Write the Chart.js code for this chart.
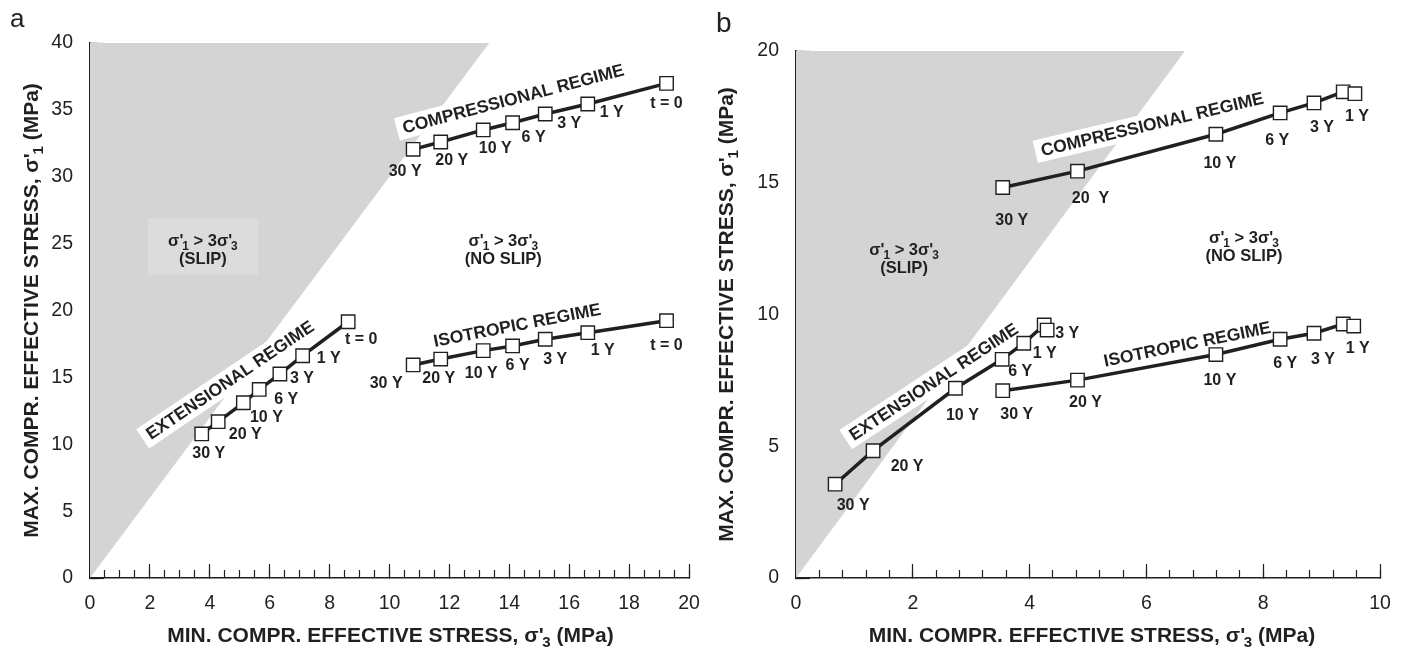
<!DOCTYPE html>
<html>
<head>
<meta charset="utf-8">
<script src="https://cdn.jsdelivr.net/npm/chart.js@4.4.1/dist/chart.umd.min.js"></script>
<style>
  html, body { margin: 0; padding: 0; background: #fff; }
  body { width: 1406px; height: 653px; position: relative; overflow: hidden; font-family: 'Liberation Sans', Arial, sans-serif; }
  .panel { position: absolute; top: 0; width: 703px; height: 653px; }
  .tag { position: absolute; color: #231f20; line-height: 1; }
</style>
</head>
<body>
<div class="panel" style="left:0"><canvas id="chartA" width="703" height="653"></canvas></div>
<div class="panel" style="left:703px"><canvas id="chartB" width="703" height="653"></canvas></div>
<div class="tag" style="left:10px; top:5px; font-size:26px">a</div>
<div class="tag" style="left:716px; top:9px; font-size:28px">b</div>
<script>
const INK = '#231f20';
const GRAY = '#d4d4d4';
const FONT = "'Liberation Sans', Arial, Helvetica, sans-serif";

// ---- panel a (sigma'3, sigma'1 in MPa) ----
const stepLabelsA = ['30 Y', '20 Y', '10 Y', '6 Y', '3 Y', '1 Y', 't = 0'];
const compS3a = [10.79, 11.71, 13.13, 14.11, 15.20, 16.62, 19.25];
const compS1a = [32.05, 32.60, 33.50, 34.04, 34.69, 35.44, 36.98];
const isoS3a = [10.79, 11.71, 13.13, 14.11, 15.20, 16.62, 19.25];
const isoS1a = [15.93, 16.37, 17.00, 17.35, 17.85, 18.34, 19.24];
const extS3a = [3.73, 4.28, 5.12, 5.65, 6.34, 7.10, 8.62];
const extS1a = [10.77, 11.69, 13.10, 14.10, 15.25, 16.62, 19.16];
const slipS3a = [0, 13.33];
const slipS1a = [0, 40];

// ---- panel b ----
const compLabelsB = ['30 Y', '20  Y', '10 Y', '6 Y', '3 Y', '', '1 Y'];
const isoLabelsB = ['30 Y', '20 Y', '10 Y', '6 Y', '3 Y', '', '1 Y'];
const extLabelsB = ['30 Y', '20 Y', '10 Y', '6 Y', '1 Y', '3 Y', ''];
const compS3b = [3.54, 4.82, 7.19, 8.29, 8.87, 9.37, 9.57];
const compS1b = [14.82, 15.44, 16.84, 17.65, 18.03, 18.45, 18.38];
const isoS3b = [3.54, 4.82, 7.19, 8.29, 8.87, 9.37, 9.55];
const isoS1b = [7.11, 7.51, 8.48, 9.06, 9.29, 9.64, 9.56];
const extS3b = [0.67, 1.32, 2.73, 3.53, 3.90, 4.25, 4.30];
const extS1b = [3.56, 4.83, 7.20, 8.30, 8.91, 9.60, 9.41];
const slipS3b = [0, 6.66];
const slipS1b = [0, 20];

// axis / note text
const xTitle = ['MIN. COMPR. EFFECTIVE STRESS, σ\'', '_3', ' (MPa)'];
const yTitle = ['MAX. COMPR. EFFECTIVE STRESS, σ\'', '_1', ' (MPa)'];
const ratioText = ['σ\'', '_1', ' > 3σ\'', '_3'];

// label offsets from their point, in px
const offCompA = [[-8, 22], [11, 19], [12, 19], [21, 15], [24, 10], [24, 9], [0, 20]];
const offIsoA = [[-27, 19], [-2, 20], [-2, 23], [5, 20], [10, 20], [15, 18], [0, 25]];
const offExtA = [[7, 20], [27, 13], [23, 15], [27, 10], [22, 5], [26, 3], [13, 18]];
const offCompB = [[9, 33], [13, 27], [4, 29], [-3, 28], [8, 25], [0, 0], [2, 23]];
const offIsoB = [[14, 24], [8, 22], [4, 26], [5, 24], [9, 26], [0, 0], [4, 22]];
const offExtB = [[18, 21], [34, 16], [7, 27], [18, 12], [21, 10], [23, 9], [0, 0]];

function pts(xs, ys) { return xs.map((x, i) => ({ x: x, y: ys[i] })); }

function richWidth(ctx, parts, size, weight) {
  let w = 0;
  parts.forEach(p => {
    const sub = p.startsWith('_');
    ctx.font = weight + ' ' + (sub ? size * 0.72 : size) + 'px ' + FONT;
    w += ctx.measureText(sub ? p.slice(1) : p).width - (sub ? size * 0.06 : 0);
  });
  return w;
}

function drawRich(ctx, parts, cx, cy, size, weight) {
  let x = cx - richWidth(ctx, parts, size, weight) / 2;
  ctx.textAlign = 'left';
  ctx.textBaseline = 'middle';
  parts.forEach(p => {
    const sub = p.startsWith('_');
    const t = sub ? p.slice(1) : p;
    ctx.font = weight + ' ' + (sub ? size * 0.72 : size) + 'px ' + FONT;
    if (sub) x -= size * 0.06;
    ctx.fillText(t, x, cy + (sub ? size * 0.32 : 0));
    x += ctx.measureText(t).width;
  });
}

function lineSet(xs, ys, labels, offsets) {
  return {
    data: pts(xs, ys),
    borderColor: INK,
    borderWidth: 3.5,
    tension: 0,
    fill: false,
    pointStyle: 'rect',
    pointRadius: 9.5,
    pointHoverRadius: 9.5,
    pointBackgroundColor: '#fff',
    pointBorderColor: INK,
    pointBorderWidth: 1.4,
    order: 1,
    stepLabels: labels,
    stepOffsets: offsets
  };
}

function makeChart(id, o) {
  const decor = {
    id: 'decor' + id,
    afterDatasetDraw(chart, args) {
      if (args.index !== 0) return;
      const ctx = chart.ctx, xs = chart.scales.x, ys = chart.scales.y;
      ctx.save();
      o.shades.forEach(b => {
        const x0 = xs.getPixelForValue(b.x0), x1 = xs.getPixelForValue(b.x1);
        const y0 = ys.getPixelForValue(b.y0), y1 = ys.getPixelForValue(b.y1);
        ctx.fillStyle = '#dcdcdc';
        ctx.fillRect(x0, y1, x1 - x0, y0 - y1);
      });
      o.regimes.forEach(r => {
        ctx.save();
        ctx.translate(xs.getPixelForValue(r.x), ys.getPixelForValue(r.y));
        ctx.rotate(r.angle * Math.PI / 180);
        ctx.font = 'bold 17.5px ' + FONT;
        const w = ctx.measureText(r.text).width;
        ctx.fillStyle = '#fff';
        ctx.fillRect(-w / 2 - 6, -11.5, w + 12, 23);
        ctx.fillStyle = INK;
        ctx.textAlign = 'center';
        ctx.textBaseline = 'middle';
        ctx.fillText(r.text, 0, 1);
        ctx.restore();
      });
      ctx.fillStyle = INK;
      o.notes.forEach(n => {
        const cx = xs.getPixelForValue(n.x), cy = ys.getPixelForValue(n.y);
        drawRich(ctx, ratioText, cx, cy - 9, 16.5, 'bold');
        ctx.font = 'bold 16.5px ' + FONT;
        ctx.textAlign = 'center';
        ctx.fillText(n.text, cx, cy + 9);
      });
      ctx.restore();
    },
    afterDatasetsDraw(chart) {
      const ctx = chart.ctx;
      ctx.save();
      ctx.fillStyle = INK;
      ctx.font = 'bold 16px ' + FONT;
      ctx.textAlign = 'center';
      ctx.textBaseline = 'middle';
      chart.data.datasets.forEach((ds, i) => {
        if (!ds.stepLabels) return;
        chart.getDatasetMeta(i).data.forEach((pt, j) => {
          const t = ds.stepLabels[j];
          if (!t) return;
          ctx.fillText(t, pt.x + ds.stepOffsets[j][0], pt.y + ds.stepOffsets[j][1]);
        });
      });
      ctx.restore();
    },
    afterDraw(chart) {
      const ctx = chart.ctx, a = chart.chartArea;
      ctx.save();
      ctx.fillStyle = INK;
      drawRich(ctx, xTitle, (a.left + a.right) / 2 + o.xTitleShift, a.bottom + 58, 21, 'bold');
      ctx.translate(a.left - o.yTitleGap, (a.top + a.bottom) / 2);
      ctx.rotate(-Math.PI / 2);
      drawRich(ctx, yTitle, 0, 0, 21, 'bold');
      ctx.restore();
    }
  };

  const majorTicks = (max, step, padding, weight) => ({
    type: 'linear', min: 0, max: max, weight: weight,
    border: { display: true, color: INK, width: 1.5 },
    grid: { drawOnChartArea: false, drawTicks: true, tickLength: -14, tickWidth: 1.2, tickColor: INK },
    ticks: { stepSize: step, padding: padding, color: INK, autoSkip: false, maxRotation: 0,
             font: { size: 19.5, family: FONT } }
  });
  const minorTicks = (max, step) => ({
    type: 'linear', min: 0, max: max, weight: 0,
    border: { display: false },
    grid: { drawOnChartArea: false, drawTicks: true, tickLength: -8, tickWidth: 1.2, tickColor: INK },
    ticks: { stepSize: step, display: false }
  });
  const noOverhang = s => { s.paddingLeft = 0; s.paddingRight = 0; s.paddingTop = 0; s.paddingBottom = 0; };

  const x = majorTicks(o.xMax, o.xMajor, 28.3, 1);
  x.position = 'bottom';
  x.afterFit = s => { s.height = o.bottomH; noOverhang(s); };
  const xm = minorTicks(o.xMax, o.xMinor);
  xm.position = 'bottom';
  xm.afterFit = s => { s.height = 0; noOverhang(s); };
  const y = majorTicks(o.yMax, o.yMajor, 31, 1);
  y.position = 'left';
  y.afterFit = s => { s.width = o.leftW; noOverhang(s); };
  const ym = minorTicks(o.yMax, o.yMinor);
  ym.position = 'left';
  ym.afterFit = s => { s.width = 0; noOverhang(s); };

  return new Chart(document.getElementById(id), {
    type: 'line',
    data: {
      datasets: [
        {
          data: pts(o.slip[0], o.slip[1]),
          borderWidth: 0,
          borderColor: 'rgba(0,0,0,0)',
          backgroundColor: GRAY,
          pointRadius: 0,
          fill: 'end',
          order: 10
        }
      ].concat(o.series)
    },
    options: {
      responsive: false,
      animation: false,
      layout: { padding: o.padding },
      plugins: { legend: { display: false }, tooltip: { enabled: false } },
      events: [],
      scales: { x: x, xm: xm, y: y, ym: ym }
    },
    plugins: [decor]
  });
}

makeChart('chartA', {
  xMax: 20, xMajor: 2, xMinor: 0.5,
  yMax: 40, yMajor: 5, yMinor: 1,
  leftW: 90, bottomH: 75, yTitleGap: 58, xTitleShift: 1,
  padding: { top: 43, right: 14, left: 0, bottom: 0 },
  slip: [slipS3a, slipS1a],
  series: [
    lineSet(compS3a, compS1a, stepLabelsA, offCompA),
    lineSet(isoS3a, isoS1a, stepLabelsA, offIsoA),
    lineSet(extS3a, extS1a, stepLabelsA, offExtA)
  ],
  shades: [{ x0: 1.94, x1: 5.61, y0: 22.65, y1: 26.9 }],
  regimes: [
    { text: 'COMPRESSIONAL REGIME', x: 14.13, y: 35.84, angle: -14.8 },
    { text: 'ISOTROPIC REGIME', x: 14.26, y: 18.92, angle: -11 },
    { text: 'EXTENSIONAL REGIME', x: 4.67, y: 14.8, angle: -34 }
  ],
  notes: [
    { text: '(SLIP)', x: 3.77, y: 24.52 },
    { text: '(NO SLIP)', x: 13.8, y: 24.46 }
  ]
});

makeChart('chartB', {
  xMax: 10, xMajor: 2, xMinor: 0.4,
  yMax: 20, yMajor: 5, yMinor: 1,
  leftW: 93, bottomH: 75, yTitleGap: 69, xTitleShift: 4,
  padding: { top: 51, right: 26, left: 0, bottom: 0 },
  slip: [slipS3b, slipS1b],
  series: [
    lineSet(compS3b, compS1b, compLabelsB, offCompB),
    lineSet(isoS3b, isoS1b, isoLabelsB, offIsoB),
    lineSet(extS3b, extS1b, extLabelsB, offExtB)
  ],
  shades: [],
  regimes: [
    { text: 'COMPRESSIONAL REGIME', x: 6.10, y: 17.23, angle: -13.4 },
    { text: 'ISOTROPIC REGIME', x: 6.70, y: 8.88, angle: -11.5 },
    { text: 'EXTENSIONAL REGIME', x: 2.355, y: 7.45, angle: -33.4 }
  ],
  notes: [
    { text: '(SLIP)', x: 1.85, y: 12.1 },
    { text: '(NO SLIP)', x: 7.67, y: 12.53 }
  ]
});
</script>
</body>
</html>
